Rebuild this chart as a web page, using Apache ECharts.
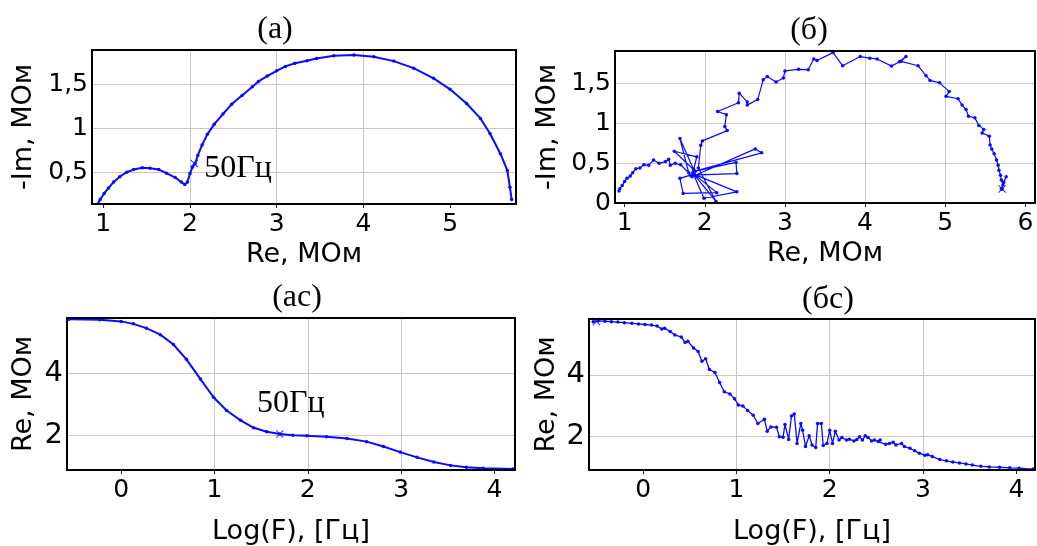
<!DOCTYPE html>
<html>
<head>
<meta charset="utf-8">
<script src="https://cdn.jsdelivr.net/npm/echarts@6/dist/echarts.min.js"></script>
<style>
  html, body { margin: 0; padding: 0; background: #fff; }
  #main { width: 1037px; height: 546px; }
</style>
</head>
<body>
<div id="main"></div>
<script>
// (а) model impedance, Re / -Im in MOhm
const reA = [0.927, 0.965, 1.01, 1.06, 1.12, 1.19, 1.27, 1.35, 1.45, 1.54, 1.64, 1.73, 1.83, 1.90, 1.94, 1.97, 2.0, 2.03, 2.06, 2.09, 2.14, 2.20, 2.28, 2.38, 2.48, 2.60, 2.72, 2.79, 2.89, 3.0, 3.10, 3.21, 3.35, 3.46, 3.66, 3.89, 4.12, 4.35, 4.58, 4.81, 5.0, 5.19, 5.35, 5.46, 5.58, 5.66, 5.69, 5.71];
const imA = [0.133, 0.19, 0.26, 0.32, 0.39, 0.45, 0.50, 0.53, 0.55, 0.545, 0.53, 0.49, 0.44, 0.39, 0.36, 0.39, 0.485, 0.56, 0.60, 0.69, 0.81, 0.93, 1.045, 1.16, 1.27, 1.37, 1.47, 1.53, 1.59, 1.65, 1.70, 1.735, 1.765, 1.79, 1.82, 1.83, 1.81, 1.76, 1.68, 1.565, 1.44, 1.28, 1.11, 0.94, 0.71, 0.52, 0.33, 0.19];
const mark50A = [2.05, 0.6];

// (б) measured impedance
const reB = [0.93, 0.94, 0.97, 1.0, 1.03, 1.07, 1.10, 1.14, 1.19, 1.24, 1.30, 1.36, 1.43, 1.51, 1.55, 1.57, 1.63, 1.70,
  1.80, 1.69, 1.86, 1.62, 1.90, 1.84, 2.63, 2.71, 1.88, 2.39, 2.40, 1.82, 1.69, 1.73, 2.15, 1.87, 2.40, 1.99, 1.85, 2.14, 1.92,
  1.95, 1.97, 2.28, 2.25, 2.27, 2.16, 2.42, 2.43, 2.53, 2.53, 2.66, 2.73, 2.78, 2.89, 2.98, 3.0, 3.17, 3.29,
  3.36, 3.40, 3.60, 3.72, 3.94, 4.06, 4.15, 4.33, 4.43, 4.51, 4.45, 4.66, 4.76, 4.81, 4.93, 5.05, 5.01, 5.16, 5.21, 5.26, 5.29,
  5.37, 5.42, 5.48, 5.46, 5.55, 5.56, 5.58, 5.61, 5.64, 5.66, 5.67, 5.69, 5.70, 5.72, 5.76, 5.73, 5.70, 5.71];
const imB = [0.15, 0.18, 0.22, 0.27, 0.31, 0.34, 0.38, 0.43, 0.44, 0.48, 0.475, 0.54, 0.50, 0.52, 0.55, 0.475, 0.50, 0.48,
  0.38, 0.81, 0.42, 0.65, 0.58, 0.33, 0.68, 0.63, 0.40, 0.51, 0.37, 0.35, 0.31, 0.12, 0.13, 0.36, 0.14, 0.06, 0.38, 0.02, 0.44,
  0.725, 0.78, 0.91, 0.96, 1.11, 1.15, 1.26, 1.38, 1.27, 1.23, 1.30, 1.55, 1.59, 1.52, 1.57, 1.66, 1.68, 1.675,
  1.81, 1.79, 1.89, 1.725, 1.84, 1.82, 1.81, 1.72, 1.775, 1.84, 1.78, 1.725, 1.60, 1.54, 1.51, 1.40, 1.34, 1.31, 1.23, 1.175, 1.09,
  1.07, 0.975, 0.925, 0.88, 0.84, 0.73, 0.68, 0.62, 0.54, 0.475, 0.41, 0.35, 0.29, 0.225, 0.33, 0.26, 0.18, 0.175];
const markEndB = [5.71, 0.175];

// (ас) model Re vs log F
const logAc = [-0.56, -0.23, 0, 0.13, 0.27, 0.42, 0.56, 0.70, 0.85, 0.99, 1.13, 1.28, 1.42, 1.56, 1.70, 1.84, 1.99, 2.20, 2.42, 2.63, 2.81, 2.99, 3.17, 3.35, 3.53, 3.70, 3.88, 4.20];
const reAc = [5.76, 5.74, 5.69, 5.61, 5.47, 5.26, 4.94, 4.46, 3.82, 3.23, 2.80, 2.48, 2.24, 2.11, 2.04, 2.0, 1.98, 1.95, 1.89, 1.79, 1.63, 1.45, 1.28, 1.13, 1.02, 0.96, 0.93, 0.90];
const mark50Ac = [1.70, 2.04];

// (бс) measured Re vs log F
const logBc = [-0.535, -0.48, -0.41, -0.34, -0.27, -0.20, -0.12, -0.05, 0.02, 0.09, 0.15, 0.20, 0.23, 0.29, 0.34, 0.41, 0.45, 0.48, 0.54, 0.59,
  0.63, 0.67, 0.71, 0.77, 0.82, 0.87, 0.93, 0.98, 1.02, 1.07, 1.12, 1.18, 1.23, 1.30, 1.33, 1.37, 1.43, 1.46, 1.50, 1.52,
  1.56, 1.59, 1.62, 1.65, 1.69, 1.71, 1.74, 1.78, 1.81, 1.85, 1.87, 1.91, 1.93, 1.97, 2.0, 2.03, 2.06, 2.10, 2.13, 2.18,
  2.21, 2.26, 2.29, 2.32, 2.35, 2.38, 2.41, 2.45, 2.48, 2.52, 2.54, 2.60, 2.64, 2.68, 2.71, 2.77, 2.80, 2.86, 2.91, 2.96,
  3.02, 3.05, 3.10, 3.18, 3.25, 3.32, 3.39, 3.46, 3.53, 3.62, 3.71, 3.82, 3.93, 4.03, 4.18];
const reBc = [5.74, 5.77, 5.76, 5.74, 5.73, 5.71, 5.69, 5.67, 5.65, 5.63, 5.60, 5.50, 5.53, 5.42, 5.31, 5.24, 5.06, 5.10, 4.88, 4.77,
  4.45, 4.53, 4.18, 4.08, 3.75, 3.45, 3.38, 3.22, 3.02, 2.98, 2.84, 2.68, 2.41, 2.55, 2.16, 2.30, 2.29, 1.98, 1.96, 2.38,
  1.89, 2.66, 2.72, 1.76, 2.41, 2.19, 1.66, 2.01, 1.71, 1.63, 2.41, 2.41, 1.69, 1.76, 2.19, 1.76, 2.16, 1.87, 1.95, 1.87,
  1.90, 1.84, 1.89, 1.98, 1.87, 2.01, 1.95, 1.84, 1.87, 1.82, 1.87, 1.73, 1.76, 1.80, 1.71, 1.76, 1.66, 1.60, 1.52, 1.44,
  1.37, 1.39, 1.33, 1.23, 1.19, 1.15, 1.12, 1.09, 1.05, 1.01, 0.99, 0.98, 0.96, 0.95, 0.92];
const markStartBc = [-0.5, 5.75];

// tick labels
const xTicksA = [1, 2, 3, 4, 5];
const xTicksB = [1, 2, 3, 4, 5, 6];
const yTicksA = [0.5, 1, 1.5];
const yTicksB = [0, 0.5, 1, 1.5];
const xTicksLog = [0, 1, 2, 3, 4];
const yTicksRe = [2, 4];

const zip = (xs, ys) => xs.map((x, i) => [x, ys[i]]);

const BLUE = "#0a0aff";
const SANS = "DejaVu Sans";
const SERIF = "Liberation Serif";
const CROSS = "path://M0,1L1,0L5,4L9,0L10,1L6,5L10,9L9,10L5,6L1,10L0,9L4,5Z";

const grids = [
  { left: 92, top: 50, width: 424, height: 154 },
  { left: 615, top: 51, width: 420, height: 152 },
  { left: 67, top: 318, width: 448, height: 154 },
  { left: 589, top: 319, width: 446, height: 153 },
].map((g) => ({ ...g, show: true, borderColor: "#000", borderWidth: 2, backgroundColor: "transparent", z: 5 }));

const fmt = (v) => String(+(+v).toFixed(2)).replace(".", ",");

function xAx(i, min, max, ticks, name, gap) {
  return {
    type: "value", gridIndex: i, min, max, splitNumber: 5,
    name, nameLocation: "middle", nameGap: gap,
    nameTextStyle: { fontFamily: SANS, fontSize: 27, color: "#000" },
    axisLine: { show: false },
    axisTick: { show: true, length: 4, customValues: ticks, lineStyle: { color: "#222" } },
    axisLabel: { margin: 8, fontFamily: SANS, fontSize: 25, color: "#000", customValues: ticks, formatter: fmt },
    splitLine: { showMinLine: false, showMaxLine: false, lineStyle: { color: "#c8c8c8", width: 1 } },
  };
}

function yAx(i, min, max, ticks, name, gap, fs, split) {
  return {
    type: "value", gridIndex: i, min, max, splitNumber: split,
    name, nameLocation: "middle", nameGap: gap, nameRotate: 90,
    nameTextStyle: { fontFamily: SANS, fontSize: 27, color: "#000" },
    axisLine: { show: false },
    axisTick: { show: false },
    axisLabel: { margin: 4, fontFamily: SANS, fontSize: fs, color: "#000", customValues: ticks, formatter: fmt },
    splitLine: { showMinLine: false, showMaxLine: false, lineStyle: { color: "#c8c8c8", width: 1 } },
  };
}

function curve(i, data, w, dot) {
  return {
    type: "line", xAxisIndex: i, yAxisIndex: i, data,
    symbol: "circle", symbolSize: dot, showSymbol: true,
    lineStyle: { color: BLUE, width: w }, itemStyle: { color: BLUE },
    z: 3,
  };
}

function marker(i, pt, label) {
  return {
    type: "scatter", xAxisIndex: i, yAxisIndex: i, data: [pt],
    symbol: CROSS, symbolSize: 8, itemStyle: { color: BLUE }, z: 4,
    label: label || { show: false },
  };
}

const label50 = {
  show: true, formatter: "50Гц", fontFamily: SERIF, fontSize: 32, color: "#000",
  textBorderWidth: 0, opacity: 1,
};

const titles = [
  { text: "(а)", x: 275, y: 30 },
  { text: "(б)", x: 809, y: 31 },
  { text: "(ас)", x: 297, y: 298 },
  { text: "(бс)", x: 828, y: 300 },
];

const chart = echarts.init(document.getElementById("main"));
chart.setOption({
  animation: false,
  backgroundColor: "#fff",
  grid: grids,
  xAxis: [
    xAx(0, 0.87, 5.76, xTicksA, "Re, МОм", 37),
    xAx(1, 0.88, 6.12, xTicksB, "Re, МОм", 37),
    xAx(2, -0.58, 4.22, xTicksLog, "Log(F), [Гц]", 48),
    xAx(3, -0.58, 4.2, xTicksLog, "Log(F), [Гц]", 48),
  ],
  yAxis: [
    yAx(0, 0.14, 1.886, yTicksA, "-Im, МОм", 55, 25, 4),
    yAx(1, 0, 1.91, yTicksB, "-Im, МОм", 54, 25, 4),
    yAx(2, 0.87, 5.8, yTicksRe, "Re, МОм", 30, 29, 3),
    yAx(3, 0.89, 5.83, yTicksRe, "Re, МОм", 29, 29, 3),
  ],
  graphic: titles.map((t) => ({
    type: "text", x: t.x, y: t.y,
    style: { text: t.text, font: "32px " + SERIF, fill: "#000", align: "center", verticalAlign: "middle" },
  })),
  series: [
    curve(0, zip(reA, imA), 2, 3.5),
    marker(0, mark50A, { ...label50, position: "right", distance: 6, offset: [0, 5] }),
    curve(1, zip(reB, imB), 1.2, 3.5),
    marker(1, markEndB),
    curve(2, zip(logAc, reAc), 2, 3.5),
    marker(2, mark50Ac, { ...label50, position: "top", distance: 10, offset: [11, 0] }),
    curve(3, zip(logBc, reBc), 1.3, 3.5),
    marker(3, markStartBc),
  ],
});
</script>
</body>
</html>
